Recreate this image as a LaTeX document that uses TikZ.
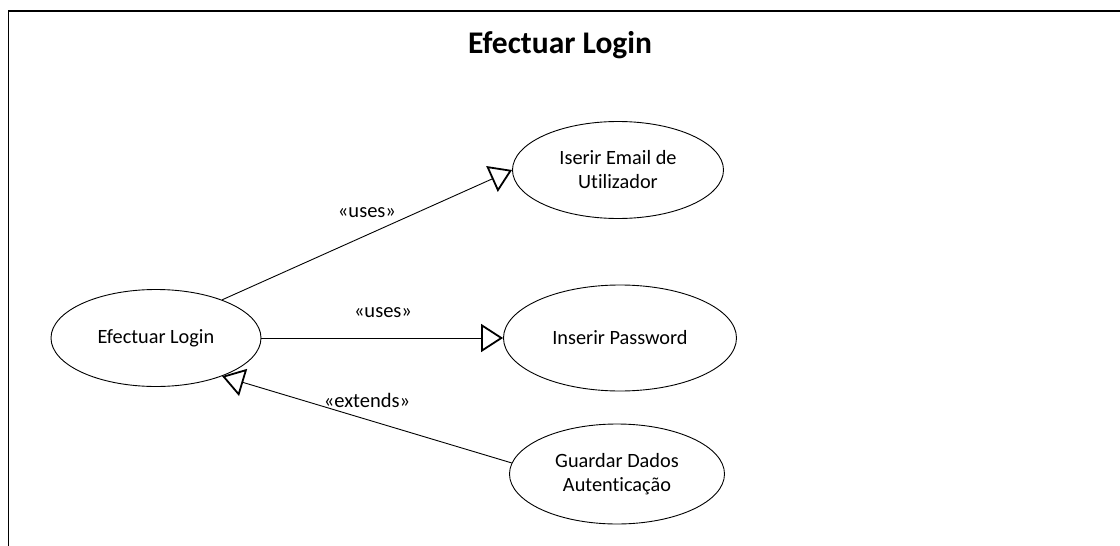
\documentclass[tikz,border=0pt]{standalone}
\usepackage{fontspec}
\setmainfont[Ligatures=CommonOff]{Carlito}
\usetikzlibrary{arrows.meta,shapes.geometric}
\tikzset{
  usecase/.style={draw, ellipse, line width=0.9pt, inner sep=0pt, align=center, font=\fontsize{20.3}{24}\selectfont},
  rel/.style={line width=0.9pt, -{Triangle[open, length=22pt, width=28pt, line width=1.8pt]}},
  lbl/.style={font=\fontsize{20.5}{24}\selectfont, inner sep=0pt},
  frame/.style={line width=1.8pt}
}
\begin{document}
\begin{tikzpicture}[x=1pt,y=-1pt]
\useasboundingbox (0,0) rectangle (1120,546);
\coordinate (ftop) at (1120,11);
\coordinate (fcorner) at (8.5,11);
\coordinate (fbot) at (8.5,546);
\draw[frame] (ftop) -- (fcorner) -- (fbot);
\node[font=\bfseries\fontsize{31.5}{36}\selectfont] (title) at (560,45) {Efectuar Login};
\node[usecase, minimum width=210pt, minimum height=97pt] (login) at (156,338) {Efectuar Login};
\node[usecase, minimum width=211pt, minimum height=97pt] (email) at (618,170) {Iserir Email de\\Utilizador};
\node[usecase, minimum width=233pt, minimum height=106pt] (pwd) at (620,338) {Inserir Password};
\node[usecase, minimum width=215pt, minimum height=100pt] (guard) at (617,474) {Guardar Dados\\Autenticação};
\draw[rel] (login.30) -- (email.west);
\draw[rel] (login.east) -- (pwd.west);
\draw[rel] (guard.174) -- (login.-30);
\node[lbl] (l1) at (367,213) {«uses»};
\node[lbl] (l2) at (383,313) {«uses»};
\node[lbl] (l3) at (367,400) {«extends»};
\end{tikzpicture}
\end{document}
